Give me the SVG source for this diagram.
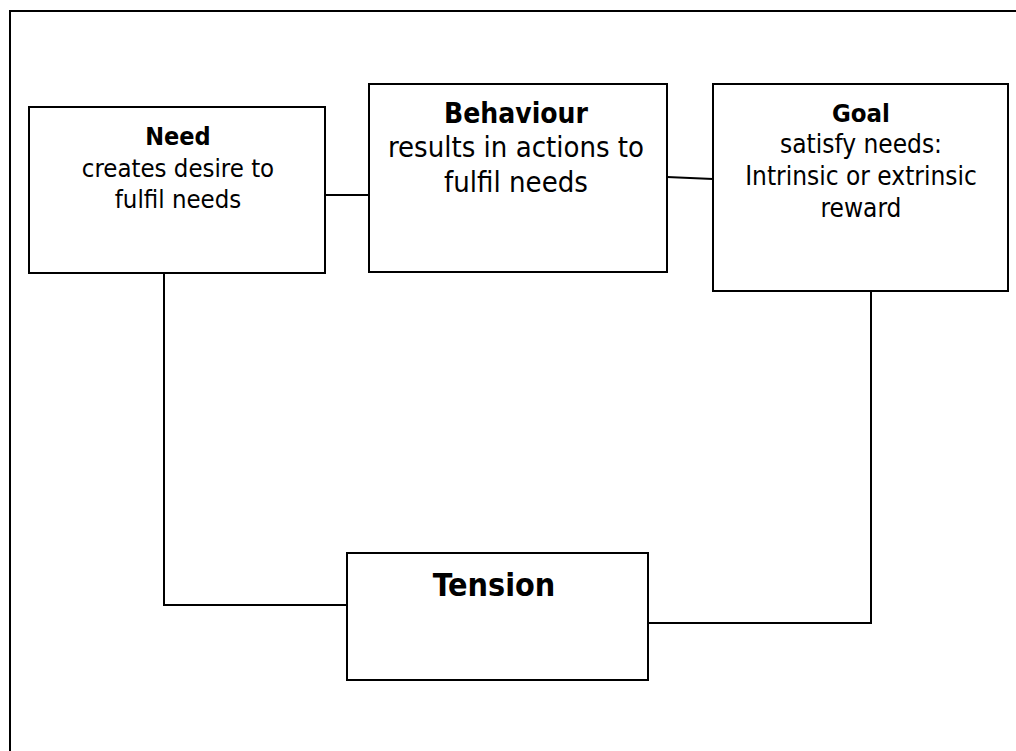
<svg xmlns="http://www.w3.org/2000/svg" width="1016" height="751" viewBox="0 0 1016 751">
<style>
.box{fill:#fff;stroke:#000;stroke-width:2}
.con{fill:none;stroke:#000;stroke-width:2}
text{font-family:"DejaVu Sans Condensed","DejaVu Sans",sans-serif;font-stretch:condensed;fill:#000;text-anchor:middle}
.t{font-weight:bold}
</style>
<rect width="1016" height="751" fill="#fff"/>
<g id="frame"><path class="con" d="M10,751 V11 H1016"/></g>
<g id="connectors">
<path class="con" d="M325,195 H369"/>
<path class="con" d="M667,177 L713,179"/>
<path class="con" d="M164,273 V605 H347"/>
<path class="con" d="M871,291 V623 H648"/>
</g>
<g id="need">
<rect class="box" x="29" y="107" width="296" height="166"/>
<text class="t" x="178" y="145" font-size="25">Need</text>
<text x="178" y="177" font-size="25.5">creates desire to</text>
<text x="178" y="208" font-size="25.5">fulfil needs</text>
</g>
<g id="behaviour">
<rect class="box" x="369" y="84" width="298" height="188"/>
<text class="t" x="516" y="123" font-size="28">Behaviour</text>
<text x="516" y="157" font-size="29">results in actions to</text>
<text x="516" y="192" font-size="29">fulfil needs</text>
</g>
<g id="goal">
<rect class="box" x="713" y="84" width="295" height="207"/>
<text class="t" x="861" y="122" font-size="25.5">Goal</text>
<text x="861" y="153" font-size="26">satisfy needs:</text>
<text x="861" y="185" font-size="26">Intrinsic or extrinsic</text>
<text x="861" y="217" font-size="26">reward</text>
</g>
<g id="tension">
<rect class="box" x="347" y="553" width="301" height="127"/>
<text class="t" x="494" y="596" font-size="32">Tension</text>
</g>
</svg>
